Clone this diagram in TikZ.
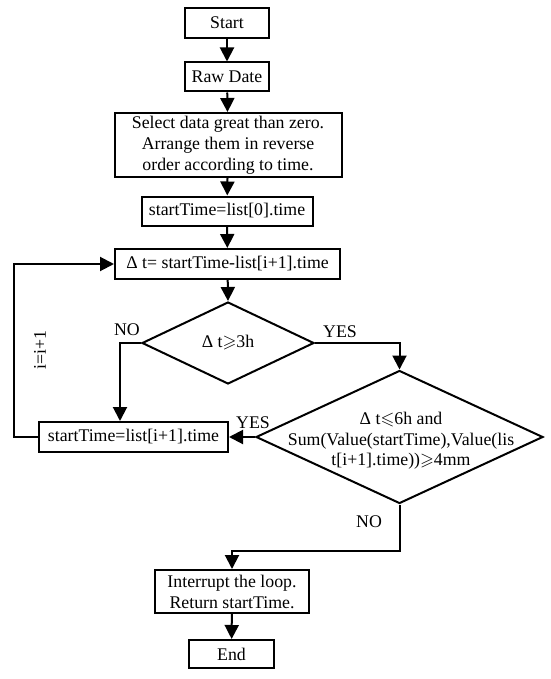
\documentclass[tikz,border=0pt]{standalone}
\usepackage{amssymb}
\usepackage{fontspec}
\setmainfont{Liberation Serif}
\usetikzlibrary{arrows.meta,shapes.geometric,calc}
\begin{document}
\begin{tikzpicture}[x=1pt,y=-1pt,
  every node/.style={font=\fontsize{17.8}{21}\selectfont},
  box/.style={draw,line width=2pt,inner sep=0pt,minimum width=#1,align=center},
  dia/.style={draw,diamond,line width=2pt,inner sep=0pt},
  conn/.style={line width=2pt,-{Triangle[length=14pt,width=14pt]}},
  lbl/.style={inner sep=0pt}]
\useasboundingbox (0,0) rectangle (550,679);
\node[box=84pt,minimum height=30pt] (start) at (227,23) {Start};
\node[box=84pt,minimum height=29pt] (raw) at (227,77) {Raw Date};
\node[box=227pt,minimum height=64pt] (sel) at (228,145) {Select data great than zero.\\Arrange them in reverse\\order according to time.};
\node[box=171pt,minimum height=29pt] (st0) at (227,211) {startTime=list[0].time};
\node[box=225pt,minimum height=30pt] (dt) at (227.5,264) {Δ t= startTime-list[i+1].time};
\node[dia,minimum width=172pt,minimum height=82pt,label={[lbl]center:Δ t$\geqslant$3h}] (d1) at (228,343) {};
\node[dia,minimum width=287pt,minimum height=133pt,
  label={[lbl,align=center,font=\fontsize{17.8}{20.5}\selectfont,yshift=-4pt,xshift=1.5pt]center:Δ t$\leqslant$6h and\\Sum(Value(startTime),Value(lis\\t[i+1].time))$\geqslant$4mm}] (d2) at (399.5,437) {};
\node[box=189pt,minimum height=30pt] (i1) at (133.5,437) {startTime=list[i+1].time};
\node[box=154pt,minimum height=43pt] (intr) at (232,591.5) {Interrupt the loop.\\Return startTime.};
\node[box=85pt,minimum height=28pt] (end) at (231.5,654) {End};
\node[lbl] (no1) at (127,330) {NO};
\node[lbl] (yes1) at (340,332) {YES};
\node[lbl] (yes2) at (253,423) {YES};
\node[lbl] (no2) at (369,522) {NO};
\node[lbl,rotate=90] (inc) at (40,350) {i=i+1};
\coordinate (lp) at (14,437);
\draw[conn] (start) -- (raw);
\draw[conn] (raw) -- (sel);
\draw[conn] (sel) -- (st0);
\draw[conn] (st0) -- (dt);
\draw[conn] (dt) -- (d1.north);
\draw[conn] (d1.east) -| (d2.north);
\draw[conn] (d1.west) -| ($(i1.north)+(-13.5,0)$);
\draw[conn] (d2.west) -- (i1.east);
\draw[conn] (i1.west) -- (lp) |- (dt.west);
\draw[conn] (d2.south) -- ++(0,46) -| (intr.north);
\draw[conn] (intr) -- (end);
\end{tikzpicture}
\end{document}
